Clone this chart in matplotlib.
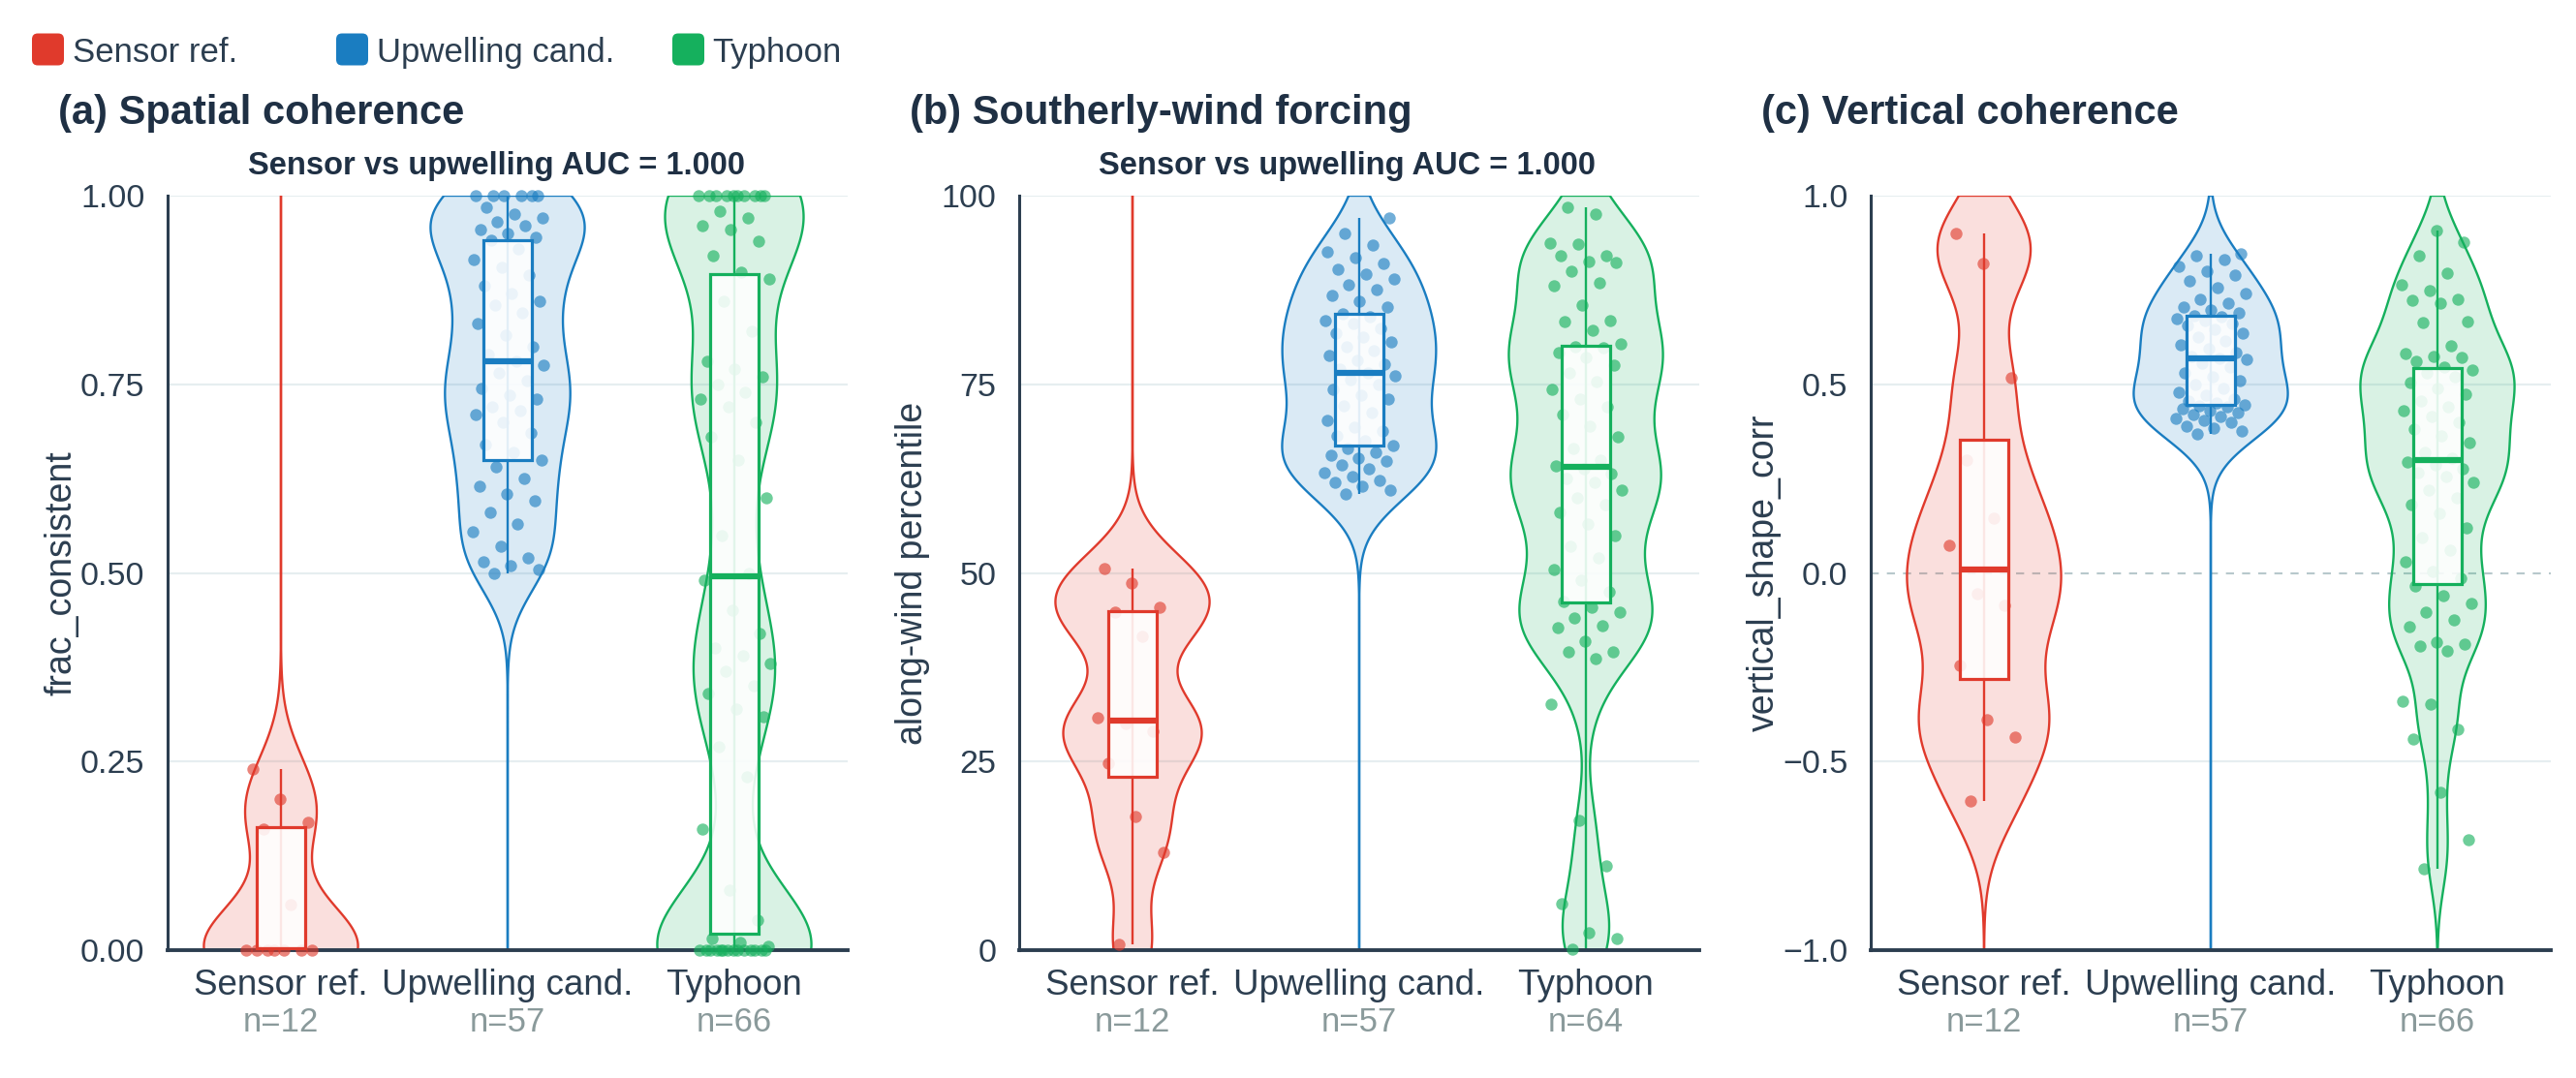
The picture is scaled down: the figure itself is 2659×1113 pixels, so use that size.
import numpy as np
import matplotlib
matplotlib.use("Agg")
import matplotlib.pyplot as plt
from matplotlib.patches import FancyBboxPatch, Rectangle
from matplotlib.transforms import IdentityTransform

plt.rcParams['font.family'] = ['Liberation Sans', 'DejaVu Sans']

# ---------------- data ----------------
groups = ["Sensor ref.", "Upwelling cand.", "Typhoon"]
group_colors = ["#E03A2C", "#1A7DC1", "#15B05D"]

# (a) frac_consistent
frac_sensor = [0, 0, 0, 0, 0, 0, 0, 0.06, 0.16, 0.17, 0.20, 0.24]
frac_upwelling = [0.50, 0.505, 0.51, 0.515, 0.52, 0.535, 0.555, 0.565, 0.58, 0.595, 0.605, 0.615, 0.625, 0.64,
                  0.65, 0.66, 0.67, 0.685, 0.70, 0.71, 0.715, 0.72, 0.73, 0.735, 0.745, 0.755, 0.765, 0.775,
                  0.78, 0.79, 0.80, 0.815, 0.83, 0.845, 0.855, 0.86, 0.87, 0.88, 0.895, 0.905, 0.915, 0.93,
                  0.9406, 0.945, 0.95, 0.955, 0.96, 0.965, 0.97, 0.975, 0.985, 1.0, 1.0, 1.0, 1.0, 1.0, 1.0]
frac_typhoon = [0.0] * 14 + [0.005, 0.01, 0.015, 0.04,
                0.08, 0.16, 0.23, 0.27,
                0.31, 0.32, 0.34, 0.35, 0.37, 0.38, 0.39, 0.40, 0.42, 0.45, 0.49, 0.50,
                0.55, 0.60, 0.65, 0.68, 0.70, 0.72, 0.73, 0.74, 0.75, 0.76, 0.77, 0.78, 0.82, 0.86, 0.89, 0.898,
                0.92, 0.94, 0.955, 0.96, 0.97, 0.98] + [1.0] * 10

# (b) along-wind percentile
wind_sensor = [0.8, 13.0, 17.7, 24.8, 29.0, 30.0, 30.8, 41.6, 44.8, 45.5, 48.7, 50.6]
wind_upwelling = [60.5, 61.0, 61.5, 62.0, 62.3, 62.8, 63.3, 63.8, 64.3, 64.8, 65.2, 65.6, 66.0, 66.5,
                  66.9, 67.5, 68.2, 68.8, 69.3, 70.2, 71.2, 72.2, 73.0, 73.6, 74.3, 75.0, 75.6, 76.1,
                  76.5, 77.0, 77.6, 78.2, 78.8, 79.4, 80.0, 80.6, 81.2, 81.8, 82.4, 83.0, 83.5, 84.0,
                  84.4, 85.2, 86.0, 86.8, 87.5, 88.2, 88.9, 89.6, 90.3, 91.0, 91.8, 92.6, 93.4, 95.0, 97.0]
wind_typhoon = [0.1, 1.6, 2.3, 6.1, 11.2, 17.2, 32.6, 38.6, 39.5, 39.6, 41.0, 42.8, 43.0, 44.0, 44.8, 45.5,
                46.2, 47.5, 49.0, 50.5, 52.0, 53.5, 55.0, 56.5, 58.0, 59.0, 60.0, 61.0, 62.0, 62.5, 63.2, 63.8,
                64.2, 65.0, 66.5, 68.0, 69.5, 71.0, 72.0, 73.0, 74.3, 75.3, 76.5, 77.5, 78.5, 79.2, 79.8, 80.0,
                80.4, 82.2, 83.3, 83.4, 85.5, 88.0, 88.5, 90.0, 91.2, 91.3, 92.0, 92.1, 93.6, 93.7, 97.5, 98.5]

# (c) vertical_shape_corr
vert_sensor = [-0.604, -0.435, -0.390, -0.245, -0.086, -0.056, 0.072, 0.145, 0.30, 0.517, 0.821, 0.90]
vert_upwelling = [0.368, 0.375, 0.385, 0.39, 0.40, 0.405, 0.41, 0.415, 0.42, 0.425, 0.43, 0.435, 0.44, 0.442,
                  0.445, 0.45, 0.455, 0.46, 0.47, 0.48, 0.49, 0.50, 0.51, 0.52, 0.53, 0.545, 0.555, 0.565,
                  0.569, 0.575, 0.585, 0.595, 0.605, 0.615, 0.625, 0.635, 0.645, 0.655, 0.66, 0.668, 0.674, 0.679,
                  0.682, 0.69, 0.697, 0.705, 0.714, 0.725, 0.74, 0.755, 0.774, 0.79, 0.80, 0.813, 0.83, 0.84, 0.847]
vert_typhoon = [-0.784, -0.707, -0.582, -0.441, -0.415, -0.349, -0.340, -0.206, -0.195, -0.189, -0.183, -0.142,
                -0.125, -0.103, -0.082, -0.060, -0.035,
                -0.015, 0.004, 0.03, 0.06, 0.094, 0.12, 0.158, 0.18, 0.20, 0.22, 0.24, 0.255, 0.265, 0.275, 0.285, 0.295,
                0.303, 0.32, 0.345, 0.363, 0.38, 0.40, 0.414, 0.43, 0.44, 0.455, 0.474, 0.49, 0.505, 0.52, 0.53, 0.538,
                0.545, 0.560, 0.572, 0.575, 0.581, 0.603, 0.663, 0.665, 0.714, 0.722, 0.725, 0.748, 0.765, 0.795,
                0.84, 0.877, 0.907]

panel_titles = ["(a) Spatial coherence", "(b) Southerly-wind forcing", "(c) Vertical coherence"]
panel_ylabels = ["frac_consistent", "along-wind percentile", "vertical_shape_corr"]
panel_ylims = [(0.0, 1.0), (0.0, 100.0), (-1.0, 1.0)]
panel_yticks = [[0.0, 0.25, 0.5, 0.75, 1.0], [0, 25, 50, 75, 100], [-1.0, -0.5, 0.0, 0.5, 1.0]]
panel_yticklabels = [["0.00", "0.25", "0.50", "0.75", "1.00"], ["0", "25", "50", "75", "100"],
                     ["\u22121.0", "\u22120.5", "0.0", "0.5", "1.0"]]
panel_subtitles = ["Sensor vs upwelling AUC = 1.000", "Sensor vs upwelling AUC = 1.000", None]
panel_zero_line = [False, False, True]
panel_data = [[frac_sensor, frac_upwelling, frac_typhoon],
              [wind_sensor, wind_upwelling, wind_typhoon],
              [vert_sensor, vert_upwelling, vert_typhoon]]
# KDE bandwidth of each violin (style)
violin_bw = [[0.055, 0.05, 0.075], [5.0, 4.5, 5.0], [0.12, 0.08, 0.09]]

# ---------------- style ----------------
W, H = 2659, 1113
DARK = "#2c3e50"
TITLE_C = "#1f3044"
GRAY = "#8a9a9b"
GRID_C = "#e6eef0"
ax_left_px = [173, 1052, 1931]
ax_w_px = 702
ax_top_px, ax_bot_px = 202, 981
HALF_W = 0.34     # violin half width (category units)
BOX_HW = 0.107    # box half width
JIT = 0.16


def kde_density(vals, grid, bw):
    v = np.asarray(vals, float)
    return np.exp(-0.5 * ((grid[:, None] - v[None, :]) / bw) ** 2).sum(axis=1)


fig = plt.figure(figsize=(W / 100, H / 100), dpi=100)

for p in range(3):
    lo, hi = panel_ylims[p]
    ax = fig.add_axes([ax_left_px[p] / W, (H - ax_bot_px) / H, ax_w_px / W, (ax_bot_px - ax_top_px) / H])
    ax.set_xlim(-0.5, 2.5)
    ax.set_ylim(lo, hi)

    # grid lines
    for t in panel_yticks[p]:
        if t == lo:
            continue
        if panel_zero_line[p] and t == 0:
            ax.axhline(t, color="#b7c8cc", lw=1.5, ls=(0, (4, 4)), zorder=0.5)
        else:
            ax.axhline(t, color=GRID_C, lw=1.6, zorder=0.5)

    grid = np.linspace(lo, hi, 600)
    for i, (vals, c) in enumerate(zip(panel_data[p], group_colors)):
        v = np.asarray(vals, float)
        d = kde_density(v, grid, violin_bw[p][i])
        w = d / d.max() * HALF_W
        xs = np.concatenate([i - w, (i + w)[::-1]])
        ys = np.concatenate([grid, grid[::-1]])
        ax.fill(xs, ys, facecolor=c, alpha=0.16, edgecolor="none", zorder=1)
        ax.fill(xs, ys, facecolor="none", edgecolor=c, lw=1.7, zorder=1.2)

        q1, med, q3 = np.percentile(v, [25, 50, 75])
        iqr = q3 - q1
        wlo = v[v >= q1 - 1.5 * iqr].min()
        whi = v[v <= q3 + 1.5 * iqr].max()
        ax.plot([i, i], [wlo, whi], color=c, lw=1.7, zorder=2, solid_capstyle="butt")

        k = np.arange(len(v))
        jit = ((k * 0.6180339887 + 0.31) % 1.0) * 2 - 1
        ax.scatter(i + jit * JIT, v, s=80, color=c, alpha=0.62, lw=0, zorder=3, clip_on=False)

        ax.add_patch(Rectangle((i - BOX_HW, q1), 2 * BOX_HW, q3 - q1, facecolor="white", alpha=0.88,
                               edgecolor="none", zorder=4))
        ax.add_patch(Rectangle((i - BOX_HW, q1), 2 * BOX_HW, q3 - q1, facecolor="none",
                               edgecolor=c, lw=2.3, zorder=4.2))
        ax.plot([i - BOX_HW, i + BOX_HW], [med, med], color=c, lw=4.5, zorder=5, solid_capstyle="butt")

        # category labels
        ax.annotate(groups[i], xy=(i, 0), xycoords=("data", "axes fraction"), xytext=(0, -46 * 0.72),
                    textcoords="offset points", ha="center", va="baseline", fontsize=26.5, color=DARK,
                    annotation_clip=False)
        ax.annotate(f"n={len(v)}", xy=(i, 0), xycoords=("data", "axes fraction"), xytext=(0, -84 * 0.72),
                    textcoords="offset points", ha="center", va="baseline", fontsize=25, color=GRAY,
                    annotation_clip=False)

    ax.set_xticks([])
    ax.set_yticks(panel_yticks[p])
    ax.set_yticklabels(panel_yticklabels[p])
    ax.tick_params(axis="y", length=0, pad=17, labelsize=24.5, labelcolor=DARK)
    for s in ["top", "right"]:
        ax.spines[s].set_visible(False)
    ax.spines["left"].set_color(DARK)
    ax.spines["left"].set_linewidth(2.2)
    ax.spines["bottom"].set_color(DARK)
    ax.spines["bottom"].set_linewidth(2.8)
    ax.spines["left"].set_zorder(2.5)
    ax.spines["bottom"].set_zorder(2.5)

    fig.text((ax_left_px[p] - 110) / W, 1 - ((ax_top_px + ax_bot_px) / 2) / H, panel_ylabels[p],
             fontsize=27, color=DARK, rotation=90, ha="center", va="center")

    fig.text((ax_left_px[p] - 113) / W, 1 - 128 / H, panel_titles[p], fontsize=30, fontweight="bold",
             color=TITLE_C, ha="left", va="baseline")
    if panel_subtitles[p]:
        fig.text((ax_left_px[p] + ax_w_px / 2 - 12) / W, 1 - 180 / H, panel_subtitles[p], fontsize=23.5,
                 fontweight="bold", color=TITLE_C, ha="center", va="baseline")

# legend
legend_sq_x = [33, 347, 694]
legend_tx_x = [75, 389, 735]
SQ = 33
for g, c, sx, tx in zip(groups, group_colors, legend_sq_x, legend_tx_x):
    sq = FancyBboxPatch((sx, H - 51 - SQ / 2), SQ, SQ, boxstyle="round,pad=0,rounding_size=6",
                        facecolor=c, edgecolor="none", transform=IdentityTransform())
    fig.add_artist(sq)
    fig.text(tx / W, 1 - 51 / H, g, fontsize=25, color=DARK, ha="left", va="center_baseline")

fig.savefig("out.png", dpi=100)
